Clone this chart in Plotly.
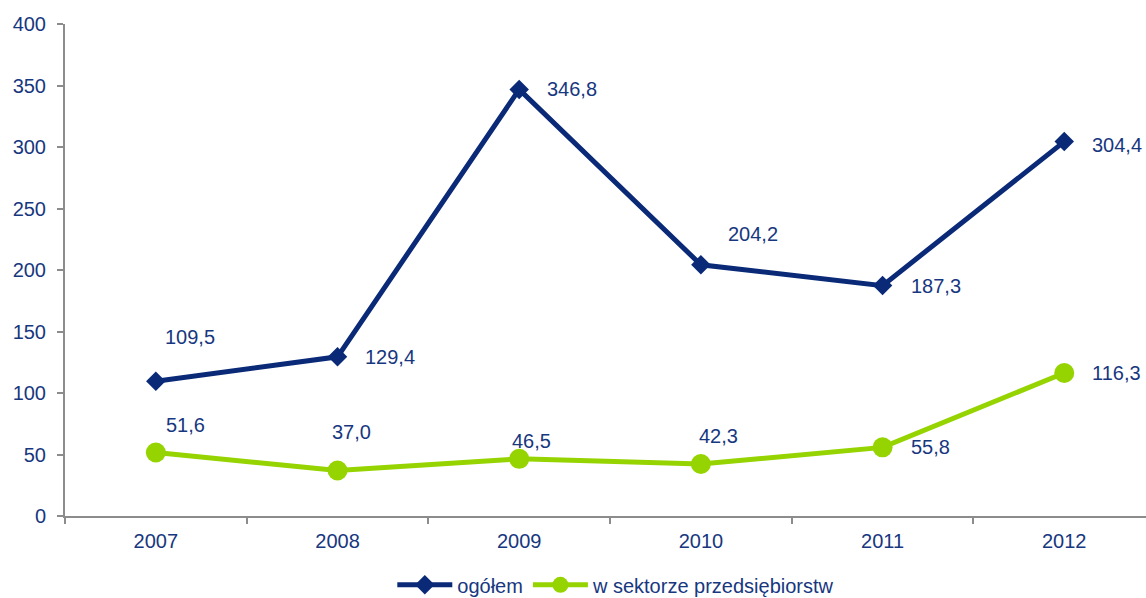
import plotly.graph_objects as go

lata = ["2007", "2008", "2009", "2010", "2011", "2012"]
ogolem = [109.5, 129.4, 346.8, 204.2, 187.3, 304.4]
sektor_przedsiebiorstw = [51.6, 37.0, 46.5, 42.3, 55.8, 116.3]

GRANAT = "#0A2A78"
ZIELONY = "#95D400"
TEKST = "#17377F"
SZARY = "#8C8C8C"
FONT = "Liberation Sans, Arial, sans-serif"

# przesuniecia etykiet (px, od lewej krawedzi tekstu) dla kazdego punktu
przes_ogolem = [(7, 44), (25, 0), (26, 0), (25, 31), (26, 0), (26, -3)]
przes_sektor = [(8, 28), (-8, 38), (-9, 18), (-4, 28), (26, 0), (26, 0)]

fig = go.Figure()
fig.add_trace(go.Scatter(
    x=lata, y=ogolem, name="ogółem", mode="lines+markers",
    line=dict(color=GRANAT, width=5),
    marker=dict(symbol="diamond", size=15, color=GRANAT),
))
fig.add_trace(go.Scatter(
    x=lata, y=sektor_przedsiebiorstw, name="w sektorze przedsiębiorstw",
    mode="lines+markers",
    line=dict(color=ZIELONY, width=5),
    marker=dict(symbol="circle", size=20, color=ZIELONY),
))


def etykieta(v):
    return f"{v:.1f}".replace(".", ",")


for seria, przes in ((ogolem, przes_ogolem), (sektor_przedsiebiorstw, przes_sektor)):
    for i, (v, (dx, dy)) in enumerate(zip(seria, przes)):
        fig.add_annotation(
            x=i, y=v, xref="x", yref="y", text=etykieta(v), showarrow=False,
            xanchor="left", yanchor="middle",
            xshift=dx, yshift=dy, font=dict(size=20, color=TEKST, family=FONT),
        )

fig.update_layout(
    width=1146, height=598,
    margin=dict(l=65, r=0, t=24, b=82),
    plot_bgcolor="white", paper_bgcolor="white",
    font=dict(family=FONT, size=20, color=TEKST),
    showlegend=True,
    legend=dict(
        orientation="h", x=0.51, xanchor="center",
        yref="container", y=0.022, yanchor="middle",
        font=dict(size=20, color=TEKST),
        itemwidth=55,
    ),
)
fig.update_xaxes(
    type="category", range=[-0.5, 5.45],
    showline=True, linecolor=SZARY, linewidth=2,
    ticks="outside", tickson="boundaries", ticklen=6, tickcolor=SZARY, tickwidth=2,
    ticklabelstandoff=6,
    showgrid=False, zeroline=False,
)
fig.update_yaxes(
    range=[0, 400], dtick=50,
    showline=True, linecolor=SZARY, linewidth=2,
    ticks="outside", ticklen=6, tickcolor=SZARY, tickwidth=2,
    ticklabelstandoff=7,
    showgrid=False, zeroline=False,
)

fig.write_html(
    "out.html",
    config={"displayModeBar": False},
    post_script="document.body.style.margin='0';document.body.style.overflow='hidden';",
)
